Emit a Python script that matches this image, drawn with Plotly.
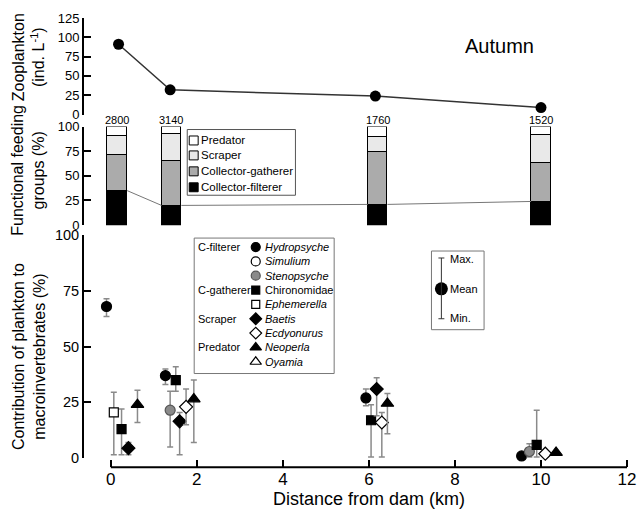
import plotly.graph_objects as go

# ---------------- data ----------------
zoo_distance = [0.18, 1.38, 6.15, 10.0]
zooplankton = [91, 32, 24, 9]

bar_distance = [0.15, 1.41, 6.2, 10.0]
bar_totals = [2800, 3140, 1760, 1520]
ffg_filterer = [35, 20, 21, 24]
ffg_gatherer = [37, 46, 54, 40]
ffg_scraper = [19, 27, 15, 28]
ffg_predator = [9, 7, 10, 8]

hydro_x = [-0.1, 1.27, 5.93, 9.55]
hydro_mean = [68, 37, 27, 1]
hydro_max = [71.5, 40, 31, 1]
hydro_min = [63.5, 33, 23.5, 1]

steno_x = [1.38, 9.73]
steno_mean = [21.5, 3]
steno_max = [30, 6.5]
steno_min = [5, 0.5]

chiro_x = [0.25, 1.51, 6.05, 9.9]
chiro_mean = [13, 35, 17, 6]
chiro_max = [22, 41, 24, 21.5]
chiro_min = [1.5, 30, 0.5, 0.5]

ephem_x = [0.07]
ephem_mean = [20.5]
ephem_max = [29.5]
ephem_min = [1.5]

baetis_x = [0.41, 1.6, 6.18]
baetis_mean = [4.5, 16.5, 31]
baetis_max = [7, 20.5, 36]
baetis_min = [1.5, 1.5, 19]

ecdy_x = [1.75, 6.3, 10.1]
ecdy_mean = [23, 16, 2]
ecdy_max = [31, 20.5, 2]
ecdy_min = [15, 0.5, 2]

neop_x = [0.62, 1.93, 6.43, 10.35]
neop_mean = [24, 26.5, 24.5, 2.5]
neop_max = [30.5, 35, 29, 2.5]
neop_min = [16, 7, 11, 2.5]

x_ticks = [0, 2, 4, 6, 8, 10, 12]

# ---------------- layout helpers ----------------
W, H = 639, 513
L, R, T, B = 83, 3, 10, 10
PW, PH = W - L - R, H - T - B
FONT = "Liberation Sans, Arial, Helvetica, sans-serif"


def fx(p):
    return (p - L) / PW


def fy(p):
    return (H - B - p) / PH


KM = 520 / 12.0  # pixels per km
X0 = 111
xrange_ = [(L - X0) / KM, (W - R - X0) / KM]

fig = go.Figure()

# ---- top panel: zooplankton ----
fig.add_trace(go.Scatter(
    x=zoo_distance, y=zooplankton, xaxis="x", yaxis="y",
    mode="lines+markers", line=dict(color="#333333", width=1.5),
    marker=dict(color="black", size=11), cliponaxis=False, showlegend=False))

# ---- middle panel: functional feeding groups ----
bw = 0.46
lx, ly = [], []
for i in range(len(bar_distance) - 1):
    lx += [bar_distance[i] + bw / 2, bar_distance[i + 1] - bw / 2, None]
    ly += [ffg_filterer[i], ffg_filterer[i + 1], None]
fig.add_trace(go.Scatter(x=lx, y=ly, xaxis="x", yaxis="y2", mode="lines",
                         line=dict(color="#777777", width=1), showlegend=False))

for vals, col in [(ffg_filterer, "black"), (ffg_gatherer, "#ababab"),
                  (ffg_scraper, "#e9e9e9"), (ffg_predator, "white")]:
    fig.add_trace(go.Bar(x=bar_distance, y=vals, width=bw, xaxis="x", yaxis="y2",
                         marker=dict(color=col, line=dict(color="black", width=1)),
                         showlegend=False))

# ---- bottom panel: species ----
species = [
    ("Hydropsyche", True, "circle", "black", "black", hydro_x, hydro_mean, hydro_max, hydro_min),
    ("Simulium", True, "circle", "white", "black", [], [], [], []),
    ("Stenopsyche", True, "circle", "#8a8a8a", "#555555", steno_x, steno_mean, steno_max, steno_min),
    ("Chironomidae", False, "square", "black", "black", chiro_x, chiro_mean, chiro_max, chiro_min),
    ("Ephemerella", True, "square", "white", "black", ephem_x, ephem_mean, ephem_max, ephem_min),
    ("Baetis", True, "diamond", "black", "black", baetis_x, baetis_mean, baetis_max, baetis_min),
    ("Ecdyonurus", True, "diamond", "white", "black", ecdy_x, ecdy_mean, ecdy_max, ecdy_min),
    ("Neoperla", True, "triangle-up", "black", "black", neop_x, neop_mean, neop_max, neop_min),
    ("Oyamia", True, "triangle-up", "white", "black", [], [], [], []),
]
sizes = {"circle": 10, "square": 9, "diamond": 10, "triangle-up": 11}
for name, ital, sym, fill, edge, xs, m, mx, mn in species:
    if not xs:
        continue
    fig.add_trace(go.Scatter(
        x=xs, y=m, xaxis="x", yaxis="y3", mode="markers", cliponaxis=False,
        marker=dict(symbol=sym, size=sizes[sym], color=fill, line=dict(color=edge, width=1.2)),
        error_y=dict(type="data", array=[a - b for a, b in zip(mx, m)],
                     arrayminus=[b - c for b, c in zip(m, mn)],
                     color="#8a8a8a", thickness=1.5, width=3),
        showlegend=False))

shapes = []
annotations = []

# ---- species legend (drawn in pixel overlay) ----
shapes.append(dict(type="rect", xref="paper", yref="paper", x0=fx(195), x1=fx(336),
                   y0=fy(374), y1=fy(238), line=dict(color="#777777", width=1),
                   fillcolor="white", layer="below"))
row_y = [247 + i * 14.4 for i in range(len(species))]
for i, (name, ital, sym, fill, edge, *_rest) in enumerate(species):
    fig.add_trace(go.Scatter(
        x=[257], y=[row_y[i]], xaxis="x2", yaxis="y4", mode="markers",
        marker=dict(symbol=sym, size=sizes[sym] - 1, color=fill, line=dict(color=edge, width=1.2)),
        showlegend=False, hoverinfo="skip"))
    txt = "<i>%s</i>" % name if ital else name
    annotations.append(dict(xref="paper", yref="paper", x=fx(264), y=fy(row_y[i]),
                            text=txt, showarrow=False, xanchor="left", yanchor="middle",
                            font=dict(size=11, family=FONT, color="black")))
for label, idx in [("C-filterer", 0), ("C-gatherer", 3), ("Scraper", 5), ("Predator", 7)]:
    annotations.append(dict(xref="paper", yref="paper", x=fx(197), y=fy(row_y[idx]),
                            text=label, showarrow=False, xanchor="left", yanchor="middle",
                            font=dict(size=11, family=FONT, color="black")))

# ---- feeding groups legend ----
shapes.append(dict(type="rect", xref="paper", yref="paper", x0=fx(188), x1=fx(297),
                   y0=fy(195), y1=fy(129), line=dict(color="#555555", width=1),
                   fillcolor="white"))
for yy, col, lab in [(140, "white", "Predator"), (155, "#e9e9e9", "Scraper"),
                     (171, "#ababab", "Collector-gatherer"), (187, "black", "Collector-filterer")]:
    shapes.append(dict(type="rect", xref="paper", yref="paper", x0=fx(190), x1=fx(199),
                       y0=fy(yy + 4.5), y1=fy(yy - 4.5), line=dict(color="black", width=1),
                       fillcolor=col))
    annotations.append(dict(xref="paper", yref="paper", x=fx(200), y=fy(yy), text=lab,
                            showarrow=False, xanchor="left", yanchor="middle",
                            font=dict(size=11.5, family=FONT, color="black")))

# ---- mean/min/max legend ----
shapes.append(dict(type="rect", xref="paper", yref="paper", x0=fx(434), x1=fx(487),
                   y0=fy(330), y1=fy(251), line=dict(color="#777777", width=1),
                   fillcolor="white", layer="below"))
shapes.append(dict(type="line", xref="paper", yref="paper", x0=fx(444), x1=fx(444),
                   y0=fy(319), y1=fy(258), line=dict(color="#333333", width=1)))
for yy in (258, 319):
    shapes.append(dict(type="line", xref="paper", yref="paper", x0=fx(441), x1=fx(447),
                       y0=fy(yy), y1=fy(yy), line=dict(color="#333333", width=1)))
fig.add_trace(go.Scatter(x=[444], y=[289], xaxis="x2", yaxis="y4", mode="markers",
                         marker=dict(size=13, color="black"), showlegend=False, hoverinfo="skip"))
for yy, lab in [(259, "Max."), (289, "Mean"), (318, "Min.")]:
    annotations.append(dict(xref="paper", yref="paper", x=fx(451), y=fy(yy), text=lab,
                            showarrow=False, xanchor="left", yanchor="middle",
                            font=dict(size=11, family=FONT, color="black")))

# ---- x axis line (range frame 0..12) ----
shapes.append(dict(type="line", xref="x", yref="paper", x0=x_ticks[0], x1=x_ticks[-1],
                   y0=fy(468), y1=fy(468), line=dict(color="black", width=2)))

# ---- totals above bars ----
for xb, tot in zip(bar_distance, bar_totals):
    annotations.append(dict(xref="x", yref="y2", x=xb, y=100, text=str(tot), showarrow=False,
                            xanchor="center", yanchor="bottom", yshift=-1,
                            font=dict(size=11, family=FONT, color="black")))

# ---- titles ----
annotations += [
    dict(xref="paper", yref="paper", x=fx(503), y=fy(45), text="Autumn", showarrow=False,
         xanchor="center", yanchor="middle", font=dict(size=20, family=FONT, color="black")),
    dict(xref="x", yref="paper", x=6, y=fy(500), text="Distance from dam (km)", showarrow=False,
         xanchor="center", yanchor="middle", font=dict(size=18, family=FONT, color="black")),
    dict(xref="paper", yref="paper", x=fx(28), y=fy(56), text="Zooplankton<br>(ind. L<sup>-1</sup>)",
         textangle=-90, showarrow=False, xanchor="center", yanchor="middle",
         font=dict(size=16, family=FONT, color="black")),
    dict(xref="paper", yref="paper", x=fx(28), y=fy(170), text="Functional feeding<br>groups (%)",
         textangle=-90, showarrow=False, xanchor="center", yanchor="middle",
         font=dict(size=16, family=FONT, color="black")),
    dict(xref="paper", yref="paper", x=fx(28), y=fy(357),
         text="Contribution of plankton to<br>macroinvertebrates (%)",
         textangle=-90, showarrow=False, xanchor="center", yanchor="middle",
         font=dict(size=16, family=FONT, color="black")),
]

yax_common = dict(anchor="free", position=0, showline=True, linecolor="black", linewidth=2,
                  ticks="inside", ticklen=7, tickwidth=2, tickcolor="black",
                  showgrid=False, zeroline=False, fixedrange=True)

fig.update_layout(
    width=W, height=H, margin=dict(l=L, r=R, t=T, b=B), autosize=False,
    paper_bgcolor="white", plot_bgcolor="rgba(0,0,0,0)", barmode="stack", bargap=0,
    font=dict(family=FONT, color="black"),
    xaxis=dict(domain=[0, 1], range=xrange_, anchor="free", position=fy(468),
               tickvals=x_ticks, ticks="inside", ticklen=7, tickwidth=2, tickcolor="black",
               showline=False, showgrid=False, zeroline=False, ticklabeloverflow="allow",
               tickfont=dict(size=17, family=FONT, color="black")),
    yaxis=dict(domain=[fy(114), fy(17)], range=[0, 125], dtick=25,
               tickfont=dict(size=13, family=FONT, color="black"), **yax_common),
    yaxis2=dict(domain=[fy(225), fy(126)], range=[0, 100], dtick=25,
                tickfont=dict(size=13, family=FONT, color="black"), **yax_common),
    yaxis3=dict(domain=[fy(459), fy(235)], range=[0, 100], dtick=25,
                tickfont=dict(size=14.5, family=FONT, color="black"), **yax_common),
    xaxis2=dict(domain=[0, 1], range=[L, W - R], visible=False, anchor="y4", overlaying="x"),
    yaxis4=dict(domain=[0, 1], range=[H - B, T], visible=False, anchor="x2"),
    shapes=shapes, annotations=annotations, showlegend=False,
)

fig.write_html("out.html", config={"displayModeBar": False},
               post_script="document.body.style.margin='0px';document.body.style.overflow='hidden';")
